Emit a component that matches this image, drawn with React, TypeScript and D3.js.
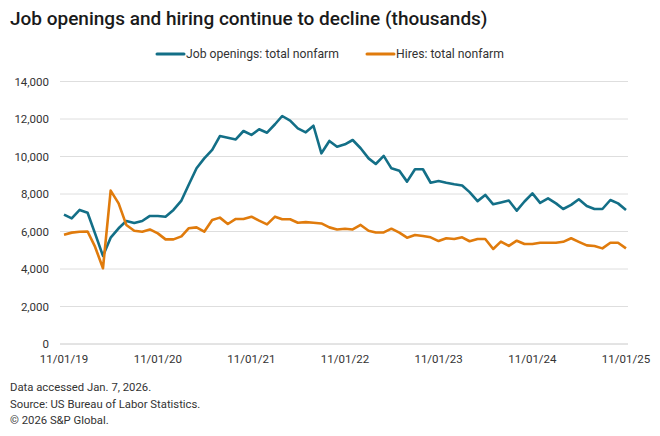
import React, { useEffect } from 'react';
import * as d3 from 'd3';

// monthly, 11/01/19 .. 11/01/25 (thousands)
const startMonth = '11/01/19';

const jobOpenings = [
  6900, 6700, 7150, 7000, 5900, 4700, 5670, 6170, 6560, 6450, 6560, 6830,
  6830, 6790, 7150, 7650, 8480, 9370, 9900, 10350, 11090, 11000, 10910, 11360,
  11150, 11450, 11270, 11720, 12160, 11910, 11500, 11290, 11640, 10170, 10830, 10520,
  10650, 10880, 10440, 9900, 9600, 10030, 9370, 9240, 8660, 9320, 9320, 8600,
  8690, 8600, 8520, 8450, 8100, 7620, 7950, 7450, 7550, 7650, 7110, 7600,
  8030, 7530, 7770, 7500, 7200, 7420, 7720, 7360, 7200, 7200, 7680, 7500,
  7150,
];

const hires = [
  5830, 5940, 5990, 6000, 5190, 4040, 8180, 7500, 6350, 6040, 5990, 6110,
  5900, 5580, 5580, 5740, 6170, 6220, 5990, 6610, 6740, 6400, 6670, 6670,
  6790, 6580, 6380, 6790, 6650, 6650, 6470, 6500, 6470, 6430, 6220, 6110,
  6150, 6110, 6350, 6040, 5950, 5950, 6150, 5940, 5670, 5810, 5760, 5690,
  5490, 5640, 5600, 5690, 5480, 5600, 5600, 5070, 5460, 5230, 5510, 5330,
  5330, 5400, 5400, 5400, 5450, 5640, 5450, 5260, 5230, 5100, 5400, 5400,
  5100,
];

const xTickLabels = ['11/01/19', '11/01/20', '11/01/21', '11/01/22', '11/01/23', '11/01/24', '11/01/25'];
const yTicks = [0, 2000, 4000, 6000, 8000, 10000, 12000, 14000];

const seriesNames = ['Job openings: total nonfarm', 'Hires: total nonfarm'];
const seriesColors = ['#136f87', '#e07b0c'];

const footnotes = [
  'Data accessed Jan. 7, 2026.',
  'Source: US Bureau of Labor Statistics.',
  '\u00a9 2026 S&P Global.',
];

const W = 660;
const H = 436;
const FONT = 'Roboto, "Liberation Sans", sans-serif';

const parse = d3.timeParse('%m/%d/%y');

export default function App() {
  useEffect(() => {
    document.body.style.margin = '0';
  }, []);

  const start = parse(startMonth) as Date;
  const dates = jobOpenings.map((_, i) => d3.timeMonth.offset(start, i));
  const tickDates = xTickLabels.map((t) => parse(t) as Date);

  const x = d3.scaleTime()
    .domain([start, tickDates[tickDates.length - 1]])
    .range([64, 626]);
  const y = d3.scaleLinear().domain([0, 14000]).range([344, 81.5]);

  const gridX0 = 60;
  const gridX1 = 628;

  const line = d3.line<number>()
    .x((_, i) => x(dates[i]))
    .y((d) => y(d))
    .curve(d3.curveLinear);

  const series = [jobOpenings, hires];

  return (
    <svg width={W} height={H} style={{ display: 'block', background: '#fff' }} fontFamily={FONT}>
      <text x={10} y={25} fontSize={19} fontWeight={500} fill="#1a1a1a">
        Job openings and hiring continue to decline (thousands)
      </text>

      {/* legend */}
      <g>
        <line x1={157} x2={184} y1={54} y2={54} stroke={seriesColors[0]} strokeWidth={3} strokeLinecap="round" />
        <text x={186} y={58} fontSize={12.2} fill="#333">{seriesNames[0]}</text>
        <line x1={367} x2={394} y1={54} y2={54} stroke={seriesColors[1]} strokeWidth={3} strokeLinecap="round" />
        <text x={396} y={58} fontSize={12.2} fill="#333">{seriesNames[1]}</text>
      </g>

      {/* y grid + labels */}
      {yTicks.map((t) => (
        <g key={t}>
          <line x1={gridX0} x2={gridX1} y1={y(t)} y2={y(t)} stroke={t === 0 ? '#c8c8c8' : '#dedede'} strokeWidth={1} />
          <text x={49} y={y(t) + 4} fontSize={11.5} textAnchor="end" fill="#333">
            {d3.format(',')(t)}
          </text>
        </g>
      ))}

      {/* x labels */}
      {tickDates.map((d, i) => (
        <text key={i} x={x(d)} y={363} fontSize={11.5} textAnchor="middle" fill="#333">
          {xTickLabels[i]}
        </text>
      ))}

      {series.map((s, i) => (
        <path key={i} d={line(s) || ''} fill="none" stroke={seriesColors[i]} strokeWidth={2.6} strokeLinejoin="round" />
      ))}

      {footnotes.map((f, i) => (
        <text key={i} x={10} y={391 + i * 16.5} fontSize={11.3} fill="#333">{f}</text>
      ))}
    </svg>
  );
}
